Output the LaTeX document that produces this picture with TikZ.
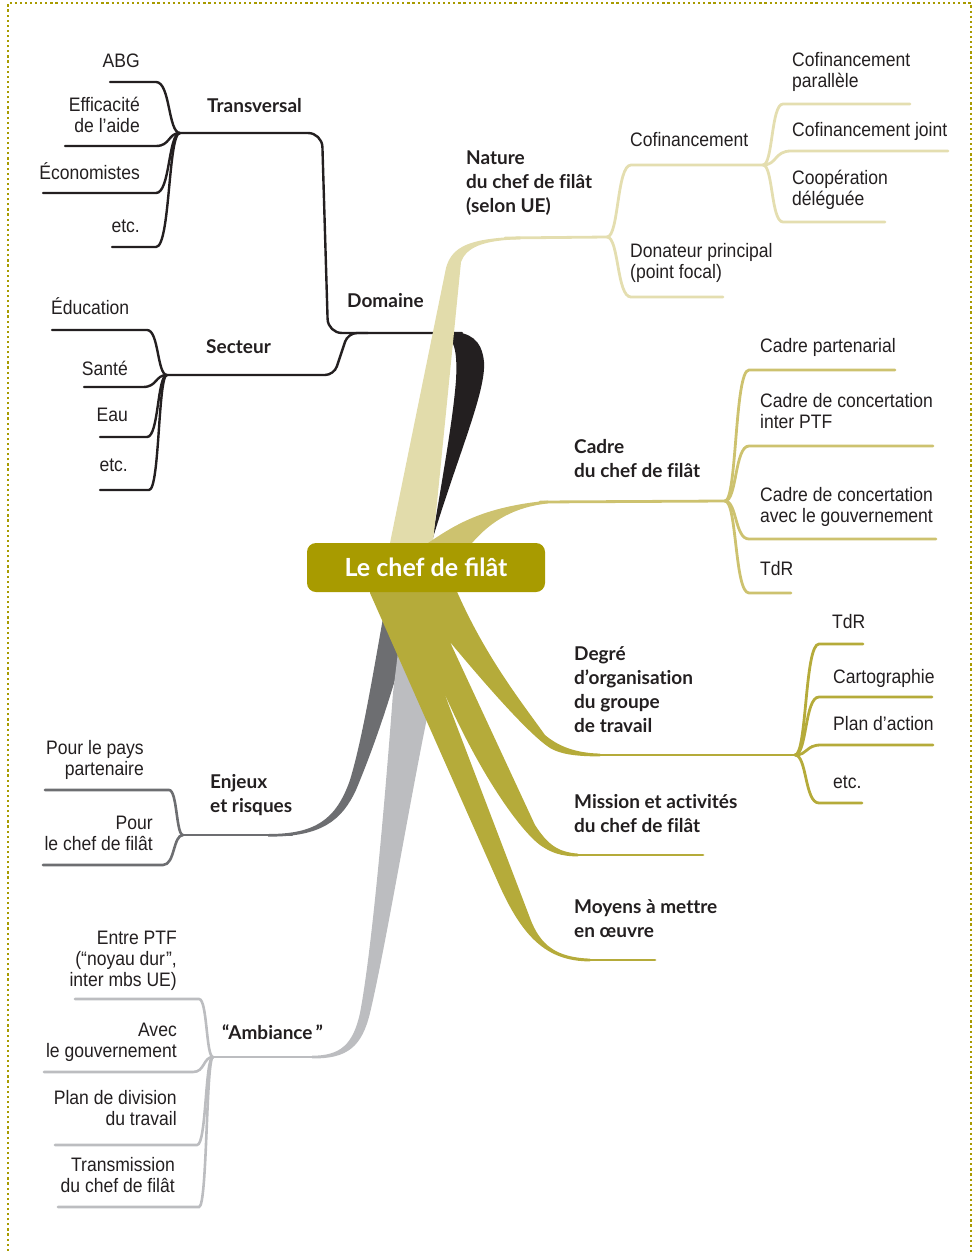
\documentclass[tikz,border=0pt]{standalone}
\usepackage{fontspec}
\setmainfont{Liberation Sans}
\newfontfamily\labfont[FakeStretch=0.9]{Liberation Sans}
\newfontfamily\hdfont[Ligatures=NoCommon]{Lato}
\newfontfamily\ctfont{Lato}
\usetikzlibrary{calc}
\definecolor{boxol}{HTML}{A89B00}
\definecolor{olv}{HTML}{B5AB3A}
\definecolor{cadrec}{HTML}{CDC26F}
\definecolor{khaki}{HTML}{E2DCAB}
\definecolor{khline}{HTML}{E4DEB0}
\definecolor{blk}{HTML}{231F20}
\definecolor{dgrey}{HTML}{6D6E71}
\definecolor{lgrey}{HTML}{BCBDC0}
\definecolor{txt}{HTML}{231F20}
\newcommand\lsub[6][24]{\draw[#2] (#3,#4) -- ({#5-#1},#4) .. controls ({#5-#1*0.4},#4) and ({#5-#1*0.5},#6) .. (#5,#6);}
\newcommand\rsub[6][24]{\draw[#2] (#5,#6) .. controls ({#5+#1*0.5},#6) and ({#5+#1*0.4},#4) .. ({#5+#1},#4) -- (#3,#4);}
\tikzset{
  lab/.style={font=\labfont\fontsize{19.5}{21}\selectfont, text=txt, inner sep=0pt},
  labr/.style={lab, align=right, anchor=base east},
  labl/.style={lab, align=left, anchor=base west},
  hd/.style={font=\hdfont\bfseries\fontsize{19}{24}\selectfont, text=txt, inner sep=0pt, align=left, anchor=base west},
  bl/.style={draw=blk, line width=2.4pt, line cap=round},
  kl/.style={draw=khline, line width=2.8pt, line cap=round},
  cl/.style={draw=cadrec, line width=2.8pt, line cap=round},
  ol/.style={draw=olv, line width=2.8pt, line cap=round},
  dl/.style={draw=dgrey, line width=2.6pt, line cap=round},
  gl/.style={draw=lgrey, line width=2.6pt, line cap=round},
}
\begin{document}
\begin{tikzpicture}[x=1pt,y=-1pt]
\useasboundingbox (0,0) rectangle (972,1253);
% border
\draw[boxol, line width=2.2pt, dash pattern=on 2.2pt off 2.9pt] (8,1256) -- (8,3) -- (971,3) -- (971,1256);

% hubs
\coordinate (H1) at (180,133);
\coordinate (H2) at (167,375);
\coordinate (N1) at (607,237);
\coordinate (N2) at (763,165);
\coordinate (C1) at (725,501);
\coordinate (D1) at (795,755);
\coordinate (E1) at (183,835);
\coordinate (A1) at (213,1057);

% ---------- Domaine (black)
\draw[bl, rounded corners=14] (H1) -- (322,133) -- (328,333) -- (462,333);
\draw[bl, rounded corners=9] (H2) -- (334,375) -- (348,333) -- (368,333);
\lsub{bl}{110}{82}{180}{133}
\lsub{bl}{65}{146}{180}{133}
\lsub{bl}{43}{193}{180}{133}
\lsub{bl}{112}{247}{180}{133}
\lsub[20]{bl}{52}{330}{167}{375}
\lsub[24]{bl}{84}{387}{167}{375}
\lsub[20]{bl}{100}{437}{167}{375}
\lsub[18]{bl}{100}{490}{167}{375}
\fill[blk] (432,541) .. controls (458,455) and (486,392) .. (484,362) .. controls (482,340) and (470,332) .. (450,331.8) -- (440,331.8) -- (440,334.2) .. controls (452,335) and (458,345) .. (456,380) .. controls (453,420) and (442,480) .. (432,541) -- cycle;

% ---------- Nature (khaki)
\draw[kl] (505,238) -- (N1);
\rsub{kl}{763}{165}{607}{237}
\rsub{kl}{723}{297}{607}{237}
\rsub[20]{kl}{910}{104}{763}{165}
\rsub[28]{kl}{948}{151}{763}{165}
\rsub[20]{kl}{885}{222}{763}{165}
\fill[khaki] (390,543) -- (446,268) .. controls (452,246) and (470,238.5) .. (520,236.6) -- (520,239.4) .. controls (482,240) and (466,248) .. (461,262) -- (433,543) -- cycle;

% ---------- Cadre
\draw[cl] (540,502) -- (C1);
\rsub{cl}{895}{370}{725}{501}
\rsub{cl}{933}{446}{725}{501}
\rsub{cl}{936}{539}{725}{501}
\rsub{cl}{791}{593}{725}{501}
\fill[cadrec] (428,543) .. controls (455,525) and (482,507) .. (548,500.6) -- (548,503.4) .. controls (515,507) and (492,520) .. (472,543) -- cycle;

% ---------- Degre / Mission / Moyens lines
\draw[ol] (595,755) -- (D1);
\rsub{ol}{863}{644}{795}{755}
\rsub{ol}{932}{697}{795}{755}
\rsub[26]{ol}{933}{745}{795}{755}
\rsub{ol}{862}{803}{795}{755}
\draw[ol] (575,855) -- (703,855);
\draw[ol] (580,960) -- (655,960);

% ---------- Enjeux (dark grey)
\draw[dl] (E1) -- (292,835);
\lsub[14]{dl}{45}{790}{183}{835}
\lsub[20]{dl}{43}{865}{183}{835}
\fill[dgrey] (378,598) -- (383,618) .. controls (372,680) and (362,740) .. (350,780) .. controls (336,820) and (315,834) .. (268,834) -- (268,836.6) .. controls (322,837) and (342,820) .. (356,790) .. controls (372,752) and (390,700) .. (402,655) -- (410,598) -- cycle;

% ---------- Ambiance (light grey)
\draw[gl] (A1) -- (320,1057);
\lsub[14]{gl}{75}{999}{213}{1057}
\lsub[20]{gl}{44}{1072}{213}{1057}
\lsub[16]{gl}{55}{1145}{213}{1057}
\lsub[14]{gl}{58}{1207}{213}{1057}
\fill[lgrey] (405,595) -- (393,693) .. controls (385,800) and (372,950) .. (360,1013) .. controls (353,1045) and (340,1055.7) .. (312,1055.7) -- (312,1058.4) .. controls (348,1059) and (362,1046) .. (370,1013) .. controls (385,950) and (410,800) .. (428,713) -- (446,595) -- cycle;

% ---------- olive fan
\fill[olv] (370,575) -- (370,593) -- (497,880) .. controls (521,935) and (545,961.4) .. (590,961.4) -- (590,958.6) .. controls (556,957.5) and (540,945) .. (530,918) -- (443,690)
  .. controls (480,775) and (520,830) .. (540,845) .. controls (550,852) and (560,856.4) .. (578,856.4) -- (578,853.6) .. controls (558,852) and (548,845) .. (535,825) -- (450,642)
  .. controls (490,690) and (530,735) .. (550,748) .. controls (560,754) and (575,756.4) .. (600,756.4) -- (600,753.6) .. controls (575,753) and (558,746) .. (545,735) .. controls (520,700) and (480,650) .. (450,575) -- cycle;

% ---------- centre
\node[fill=boxol, rounded corners=9pt, minimum width=238pt, minimum height=49pt, inner sep=0pt,
  text=white, font=\ctfont\bfseries\fontsize{25}{28}\selectfont] (centre) at (426,567.5) {Le chef de filât};

% ---------- headings (base = last line)
\node[hd] (transv) at (207,112) {Transversal};
\node[hd] (secteur) at (206,353) {Secteur};
\node[hd] (domaine) at (347,307) {Domaine};
\node[hd] (nature) at (466,212) {Nature\\du chef de filât\\(selon UE)};
\node[hd] (cadre) at (574,477) {Cadre\\du chef de filât};
\node[hd] (degre) at (574,732) {Degré\\d’organisation\\du groupe\\de travail};
\node[hd] (mission) at (574,832) {Mission et activités\\du chef de filât};
\node[hd] (moyens) at (574,937) {Moyens à mettre\\en œuvre};
\node[hd] (enjeux) at (210,812) {Enjeux\\et risques};
\node[hd] (ambiance) at (222,1039) {“Ambiance\kern3pt”};

% ---------- left labels (base = last line)
\node[labr] (abg) at (140,67) {ABG};
\node[labr] (effic) at (140,132) {Efficacité\\de l’aide};
\node[labr] (econ) at (140,179) {Économistes};
\node[labr] (etc1) at (140,232) {etc.};
\node[labl] (educ) at (51,314) {Éducation};
\node[labr] (sante) at (128,375) {Santé};
\node[labr] (eau) at (128,421) {Eau};
\node[labr] (etc2) at (128,471) {etc.};
\node[labr] (pays) at (144,775) {Pour le pays\\partenaire};
\node[labr] (pourchef) at (153,850) {Pour\\le chef de filât};
\node[labr] (entre) at (177,986) {Entre PTF\\(“noyau dur\kern1pt”,\\inter mbs UE)};
\node[labr] (avec) at (177,1057) {Avec\\le gouvernement};
\node[labr] (plan) at (177,1125) {Plan de division\\du travail};
\node[labr] (transm) at (175,1192) {Transmission\\du chef de filât};

% ---------- right labels
\node[labl] (cofi) at (630,146) {Cofinancement};
\node[labl] (donat) at (630,278) {Donateur principal\\(point focal)};
\node[labl] (cofpar) at (792,87) {Cofinancement\\parallèle};
\node[labl] (cofjoint) at (792,136) {Cofinancement joint};
\node[labl] (coop) at (792,205) {Coopération\\déléguée};
\node[labl] (cpart) at (760,352) {Cadre partenarial};
\node[labl] (cptf) at (760,428) {Cadre de concertation\\inter PTF};
\node[labl] (cgouv) at (760,522) {Cadre de concertation\\avec le gouvernement};
\node[labl] (tdr1) at (760,575) {TdR};
\node[labl] (tdr2) at (832,628) {TdR};
\node[labl] (carto) at (833,683) {Cartographie};
\node[labl] (plana) at (833,730) {Plan d’action};
\node[labl] (etc3) at (833,788) {etc.};
\end{tikzpicture}
\end{document}
